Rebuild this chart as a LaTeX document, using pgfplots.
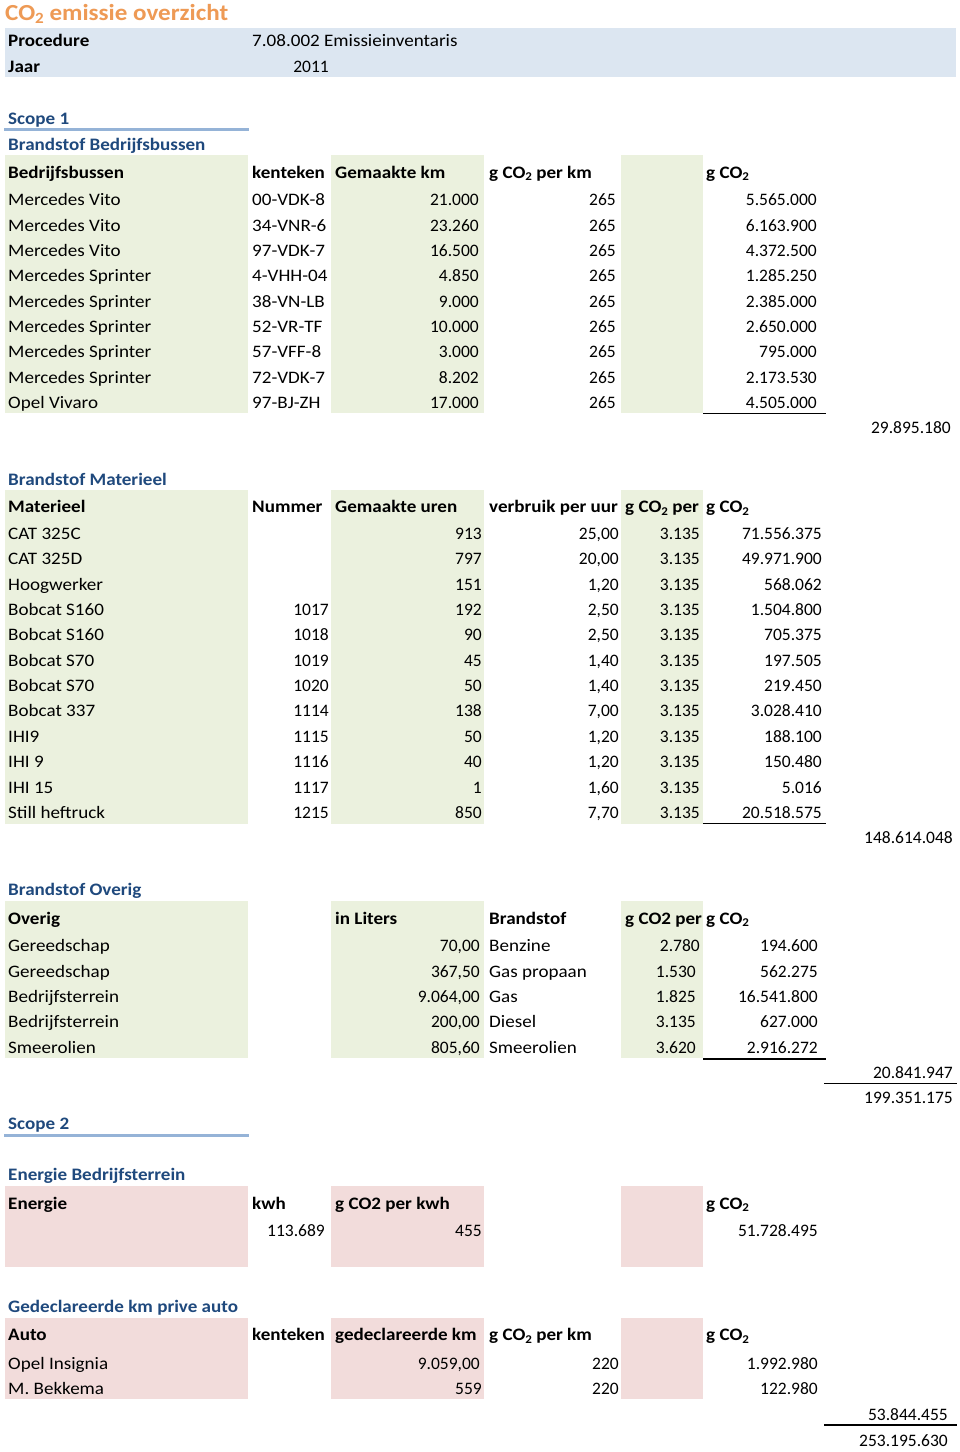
\documentclass[border=0pt]{standalone}
\usepackage{pgfplots}
\pgfplotsset{compat=1.18}
\usepackage{fontspec}
\setmainfont{Carlito}[FakeStretch=1.09]
\newfontfamily\numfont{Carlito}

\definecolor{bandblue}{HTML}{DCE6F1}
\definecolor{cellgreen}{HTML}{EBF1DE}
\definecolor{cellpink}{HTML}{F2DCDB}
\definecolor{headblue}{HTML}{1F497D}
\definecolor{ruleblue}{HTML}{95B3D7}
\definecolor{titleorange}{HTML}{EE9A55}

\newcommand\cellfont{\fontsize{17.5}{20}\selectfont}
\DeclareRobustCommand\co{CO\raisebox{-0.3ex}{\scalebox{0.68}{2}}}

\pgfplotsset{
  txt/.style={only marks, mark=none, nodes near coords,
    point meta=explicit symbolic,
    every node near coord/.style={inner sep=0pt, text=black,
      font=\cellfont, anchor=base #1}},
  L/.style={txt=west},
  R/.style={txt=east, every node near coord/.append style={font=\cellfont\numfont}},
  B/.style={txt=west, every node near coord/.append style={font=\cellfont\bfseries}},
  H/.style={txt=west, every node near coord/.append style={font=\cellfont\bfseries, text=headblue}},
}

\begin{document}
\begin{tikzpicture}
\begin{axis}[
  width=960pt, height=1452pt, scale only axis,
  xmin=0, xmax=960, ymin=0, ymax=1452, y dir=reverse,
  hide axis, clip=false]

\fill[white] (0,0) rectangle (960,1452);

% background cells
\fill[bandblue] (5,28) rectangle (956,77);
\fill[cellgreen] (5,155) rectangle (248,413.3);
\fill[cellgreen] (331,155) rectangle (484,413.3);
\fill[cellgreen] (621,155) rectangle (703,413.3);
\fill[cellgreen] (5,490) rectangle (248,823.5);
\fill[cellgreen] (331,490) rectangle (484,823.5);
\fill[cellgreen] (621,490) rectangle (703,823.5);
\fill[cellgreen] (5,900.7) rectangle (248,1057.5);
\fill[cellgreen] (331,900.7) rectangle (484,1057.5);
\fill[cellgreen] (621,900.7) rectangle (703,1057.5);
\fill[cellpink] (5,1186) rectangle (248,1266.7);
\fill[cellpink] (331,1186) rectangle (484,1266.7);
\fill[cellpink] (621,1186) rectangle (703,1266.7);
\fill[cellpink] (5,1318.3) rectangle (248,1398.7);
\fill[cellpink] (331,1318.3) rectangle (484,1398.7);
\fill[cellpink] (621,1318.3) rectangle (703,1398.7);

\draw[ruleblue, line width=2.5pt] (4,129.5) -- (249,129.5);
\draw[ruleblue, line width=2.5pt] (4,1135.3) -- (249,1135.3);
\draw[black, line width=1.1pt] (703,413.3) -- (826,413.3);
\draw[black, line width=1.1pt] (703,823.5) -- (826,823.5);
\draw[black, line width=1.1pt] (703,1059) -- (826,1059);
\draw[black, line width=1.1pt] (824,1083.3) -- (957,1083.3);
\draw[black, line width=1.1pt] (824,1425) -- (957,1425);

% title
\addplot[txt=west, every node near coord/.append style={font=\fontsize{23}{26}\selectfont\bfseries, text=titleorange}]
  coordinates {(5,20)[\co\ emissie overzicht]};

% header block
\addplot[B] coordinates {(8,46.7)[Procedure] (8,72.7)[Jaar]};
\addplot[L] coordinates {(252,46.7)[7.08.002 Emissieinventaris]};
\addplot[R] coordinates {(329,72.7)[2011]};

% section headings
\addplot[H] coordinates {
  (8,124)[Scope 1] (8,150)[Brandstof Bedrijfsbussen]
  (8,485)[Brandstof Materieel] (8,895)[Brandstof Overig]
  (8,1129)[Scope 2] (8,1180.7)[Energie Bedrijfsterrein]
  (8,1312.7)[Gedeclareerde km prive auto]};

% column headers
\addplot[B] coordinates {
  (8,178)[Bedrijfsbussen] (252,178)[kenteken] (335,178)[Gemaakte km]
  (489,178)[g \co\ per km] (706,178)[g \co]
  (8,512.7)[Materieel] (252,512.7)[Nummer] (335,512.7)[Gemaakte uren]
  (489,512.7)[verbruik per uur] (625,512.7)[g \co\ per] (706,512.7)[g \co]
  (8,924)[Overig] (335,924)[in Liters] (489,924)[Brandstof]
  (625,924)[g CO2 per] (706,924)[g \co]
  (8,1209)[Energie] (252,1209)[kwh] (335,1209)[g CO2 per kwh] (706,1209)[g \co]
  (8,1340.7)[Auto] (252,1340.7)[kenteken] (335,1340.7)[gedeclareerde km]
  (489,1340.7)[g \co\ per km] (706,1340.7)[g \co]};

% Brandstof Bedrijfsbussen
\addplot[L] coordinates {
  (8,205.7)[Mercedes Vito] (252,205.7)[00-VDK-8]
  (8,231.05)[Mercedes Vito] (252,231.05)[34-VNR-6]
  (8,256.4)[Mercedes Vito] (252,256.4)[97-VDK-7]
  (8,281.75)[Mercedes Sprinter] (252,281.75)[4-VHH-04]
  (8,307.1)[Mercedes Sprinter] (252,307.1)[38-VN-LB]
  (8,332.45)[Mercedes Sprinter] (252,332.45)[52-VR-TF]
  (8,357.8)[Mercedes Sprinter] (252,357.8)[57-VFF-8]
  (8,383.15)[Mercedes Sprinter] (252,383.15)[72-VDK-7]
  (8,408.5)[Opel Vivaro] (252,408.5)[97-BJ-ZH]};
\addplot[R] coordinates {
  (479,205.7)[21.000] (616,205.7)[265] (817,205.7)[5.565.000]
  (479,231.05)[23.260] (616,231.05)[265] (817,231.05)[6.163.900]
  (479,256.4)[16.500] (616,256.4)[265] (817,256.4)[4.372.500]
  (479,281.75)[4.850] (616,281.75)[265] (817,281.75)[1.285.250]
  (479,307.1)[9.000] (616,307.1)[265] (817,307.1)[2.385.000]
  (479,332.45)[10.000] (616,332.45)[265] (817,332.45)[2.650.000]
  (479,357.8)[3.000] (616,357.8)[265] (817,357.8)[795.000]
  (479,383.15)[8.202] (616,383.15)[265] (817,383.15)[2.173.530]
  (479,408.5)[17.000] (616,408.5)[265] (817,408.5)[4.505.000]
  (951,433.8)[29.895.180]};

% Brandstof Materieel
\addplot[L] coordinates {
  (8,539.5)[CAT 325C] (8,564.85)[CAT 325D] (8,590.2)[Hoogwerker]
  (8,615.55)[Bobcat S160] (8,640.9)[Bobcat S160] (8,666.25)[Bobcat S70]
  (8,691.6)[Bobcat S70] (8,716.95)[Bobcat 337] (8,742.3)[IHI9]
  (8,767.65)[IHI 9] (8,793.0)[IHI 15] (8,818.35)[Still heftruck]};
\addplot[R] coordinates {
  (482,539.5)[913] (619,539.5)[25,00] (700,539.5)[3.135] (822,539.5)[71.556.375]
  (482,564.85)[797] (619,564.85)[20,00] (700,564.85)[3.135] (822,564.85)[49.971.900]
  (482,590.2)[151] (619,590.2)[1,20] (700,590.2)[3.135] (822,590.2)[568.062]
  (329,615.55)[1017] (482,615.55)[192] (619,615.55)[2,50] (700,615.55)[3.135] (822,615.55)[1.504.800]
  (329,640.9)[1018] (482,640.9)[90] (619,640.9)[2,50] (700,640.9)[3.135] (822,640.9)[705.375]
  (329,666.25)[1019] (482,666.25)[45] (619,666.25)[1,40] (700,666.25)[3.135] (822,666.25)[197.505]
  (329,691.6)[1020] (482,691.6)[50] (619,691.6)[1,40] (700,691.6)[3.135] (822,691.6)[219.450]
  (329,716.95)[1114] (482,716.95)[138] (619,716.95)[7,00] (700,716.95)[3.135] (822,716.95)[3.028.410]
  (329,742.3)[1115] (482,742.3)[50] (619,742.3)[1,20] (700,742.3)[3.135] (822,742.3)[188.100]
  (329,767.65)[1116] (482,767.65)[40] (619,767.65)[1,20] (700,767.65)[3.135] (822,767.65)[150.480]
  (329,793.0)[1117] (482,793.0)[1] (619,793.0)[1,60] (700,793.0)[3.135] (822,793.0)[5.016]
  (329,818.35)[1215] (482,818.35)[850] (619,818.35)[7,70] (700,818.35)[3.135] (822,818.35)[20.518.575]
  (953,843.7)[148.614.048]};

% Brandstof Overig
\addplot[L] coordinates {
  (8,951.7)[Gereedschap] (489,951.7)[Benzine]
  (8,977.05)[Gereedschap] (489,977.05)[Gas propaan]
  (8,1002.4)[Bedrijfsterrein] (489,1002.4)[Gas]
  (8,1027.75)[Bedrijfsterrein] (489,1027.75)[Diesel]
  (8,1053.1)[Smeerolien] (489,1053.1)[Smeerolien]};
\addplot[R] coordinates {
  (480,951.7)[70,00] (700,951.7)[2.780] (818,951.7)[194.600]
  (480,977.05)[367,50] (696,977.05)[1.530] (818,977.05)[562.275]
  (480,1002.4)[9.064,00] (696,1002.4)[1.825] (818,1002.4)[16.541.800]
  (480,1027.75)[200,00] (696,1027.75)[3.135] (818,1027.75)[627.000]
  (480,1053.1)[805,60] (696,1053.1)[3.620] (818,1053.1)[2.916.272]
  (953,1078.3)[20.841.947] (953,1103.3)[199.351.175]};

% Energie Bedrijfsterrein
\addplot[R] coordinates {
  (325,1236)[113.689] (482,1236)[455] (818,1236)[51.728.495]};

% Gedeclareerde km prive auto
\addplot[L] coordinates {(8,1369)[Opel Insignia] (8,1394.3)[M. Bekkema]};
\addplot[R] coordinates {
  (480,1369)[{9.059,00}] (619,1369)[220] (818,1369)[1.992.980]
  (482,1394.3)[559] (619,1394.3)[220] (818,1394.3)[122.980]
  (948,1420)[53.844.455] (948,1446)[253.195.630]};

\end{axis}
\end{tikzpicture}
\end{document}
